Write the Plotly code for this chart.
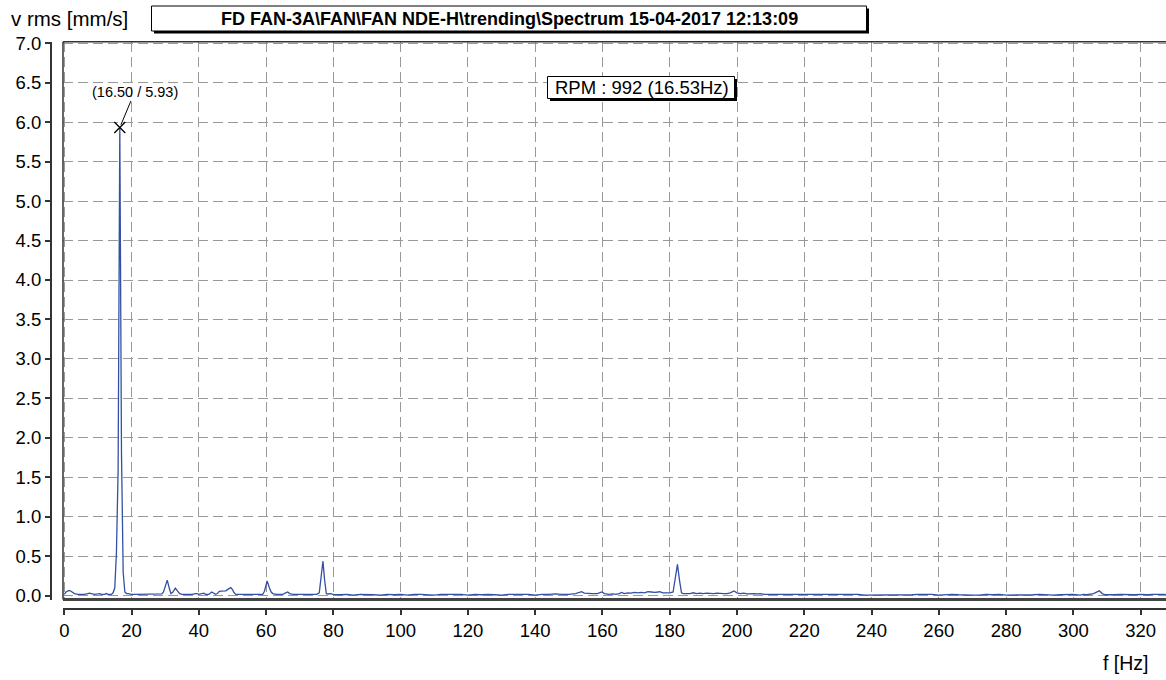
import plotly.graph_objects as go

W, H = 1166, 680

freq = [0.0, 0.5, 1.0, 1.5, 2.0, 2.5, 3.0, 4.0, 5.0, 6.0, 7.0, 7.5, 8.0, 9.0, 10.0, 10.5, 11.0, 12.0, 12.5, 13.0, 14.0, 14.5, 15.0, 15.5, 16.0, 16.5, 17.0, 17.5, 18.0, 18.5, 19.0, 20.0,
        21, 22, 23, 24, 25, 26, 27, 28, 29, 29.5, 30.0, 30.6, 31.2, 31.7, 32.3, 33.0, 33.7, 34.3, 35, 36, 37, 38, 39, 39.5, 40,
        41, 41.5, 42, 43, 43.8, 44.4, 45, 45.5, 46, 46.5, 47, 47.5, 48, 48.5, 49, 49.5, 50, 50.5, 51, 52, 53, 54, 55, 56, 57, 58, 59, 59.5, 60.3, 61, 61.5, 62, 63, 64, 65, 65.8, 66.4, 67, 68, 69, 70, 71, 72, 73, 74, 75, 75.8, 76.3, 76.9, 77.4, 77.9, 78.5, 79, 80,
        82, 84, 86, 88, 90, 92, 94, 96, 98, 100, 102, 104, 106, 108, 110, 112, 114, 116, 118, 120, 122, 124, 126, 128, 130, 132, 134, 136, 138, 140, 142, 144, 146, 148, 150, 152, 153, 153.8, 154.6, 155.5, 157, 158.5, 159.8, 160.6,
        162, 163, 164, 165, 165.7, 166.5, 167.5, 168.5, 169.5, 170.5, 171.5, 172.5, 173.5, 174.5, 175.5, 176.5, 177, 178, 179, 180, 181, 181.7, 182.3, 182.9, 183.5, 184, 185, 186, 187, 188, 189, 190, 191, 192, 193, 194, 195, 196, 197, 198, 199.1, 200, 201, 202, 203, 204, 205, 206, 207, 208,
        210, 212, 214, 216, 218, 220, 222, 224, 226, 228, 230, 232, 234, 236, 238, 240, 242, 244, 246, 248, 250, 252, 254, 256, 257, 258, 260, 262, 264, 266, 268, 270, 272, 274, 276, 278, 280, 282, 284, 286, 288, 290, 292, 294, 296, 298, 299, 300, 302, 303, 304, 305, 306, 307.7, 308.6, 309.5, 311, 312, 314, 316, 318, 320, 322, 324, 326, 327.5]

vrms = [0.02, 0.05, 0.06, 0.07, 0.06, 0.04, 0.03, 0.02, 0.02, 0.02, 0.03, 0.035, 0.03, 0.02, 0.025, 0.03, 0.02, 0.02, 0.03, 0.02, 0.02, 0.04, 0.10, 0.55, 1.6, 5.93, 1.8, 0.30, 0.05, 0.03, 0.03, 0.02,
        0.02, 0.02, 0.02, 0.02, 0.02, 0.02, 0.02, 0.02, 0.025, 0.05, 0.12, 0.20, 0.10, 0.03, 0.05, 0.10, 0.06, 0.03, 0.02, 0.02, 0.02, 0.02, 0.03, 0.03, 0.02,
        0.025, 0.035, 0.02, 0.02, 0.05, 0.03, 0.02, 0.03, 0.055, 0.06, 0.06, 0.06, 0.065, 0.08, 0.09, 0.105, 0.08, 0.04, 0.02, 0.02, 0.02, 0.02, 0.02, 0.02, 0.02, 0.02, 0.02, 0.06, 0.19, 0.10, 0.05, 0.03, 0.02, 0.02, 0.02, 0.04, 0.05, 0.03, 0.02, 0.02, 0.02, 0.02, 0.02, 0.02, 0.02, 0.02, 0.04, 0.20, 0.44, 0.20, 0.03, 0.025, 0.03, 0.02,
        0.015, 0.02, 0.01, 0.02, 0.02, 0.015, 0.01, 0.02, 0.015, 0.02, 0.01, 0.02, 0.02, 0.015, 0.01, 0.02, 0.02, 0.015, 0.02, 0.01, 0.02, 0.015, 0.02, 0.015, 0.01, 0.02, 0.02, 0.015, 0.02, 0.01, 0.02, 0.02, 0.025, 0.02, 0.02, 0.03, 0.04, 0.055, 0.035, 0.03, 0.03, 0.03, 0.05, 0.03,
        0.02, 0.025, 0.02, 0.03, 0.045, 0.03, 0.04, 0.035, 0.045, 0.04, 0.045, 0.04, 0.055, 0.05, 0.045, 0.05, 0.055, 0.04, 0.04, 0.04, 0.05, 0.22, 0.40, 0.20, 0.04, 0.03, 0.03, 0.03, 0.04, 0.03, 0.035, 0.03, 0.035, 0.03, 0.03, 0.035, 0.03, 0.03, 0.03, 0.04, 0.063, 0.04, 0.03, 0.035, 0.025, 0.03, 0.03, 0.025, 0.03, 0.02,
        0.02, 0.02, 0.015, 0.02, 0.015, 0.015, 0.02, 0.015, 0.015, 0.015, 0.015, 0.015, 0.015, 0.02, 0.01, 0.01, 0.015, 0.015, 0.01, 0.01, 0.01, 0.015, 0.02, 0.02, 0.015, 0.02, 0.01, 0.015, 0.02, 0.015, 0.01, 0.01, 0.01, 0.02, 0.015, 0.02, 0.01, 0.01, 0.01, 0.01, 0.015, 0.02, 0.015, 0.01, 0.015, 0.02, 0.015, 0.02, 0.01, 0.02, 0.015, 0.02, 0.03, 0.065, 0.03, 0.015, 0.01, 0.015, 0.02, 0.015, 0.015, 0.02, 0.015, 0.02, 0.02, 0.02]

peak_f = [16.50]
peak_v = [5.93]

x_ticks = list(range(0, 321, 20))
y_ticks = [i * 0.5 for i in range(15)]
y_tick_text = ["%.1f" % v for v in y_ticks]

title_text = "FD FAN-3A\\FAN\\FAN NDE-H\\trending\\Spectrum 15-04-2017 12:13:09"
rpm_text = "RPM : 992 (16.53Hz)"
ylabel = "v rms [mm/s]"
xlabel = "f [Hz]"

FONT = "Liberation Sans, Arial, sans-serif"
BLUE = "#3351a3"
DARK = "#333333"
GRID = "#999999"
GRID_DASH = "10px,5px"


def px(x):
    return x / W


def py(y):
    return 1 - y / H


plot_l, plot_t, plot_b = 63, 41.7, 599.5

fig = go.Figure()
fig.add_trace(go.Scatter(x=freq, y=vrms, mode="lines",
                         line=dict(color=BLUE, width=1.3), hoverinfo="x+y"))
fig.add_trace(go.Scatter(x=peak_f, y=peak_v, mode="markers",
                         marker=dict(symbol="x-thin-open", size=11, color="black",
                                     line=dict(color="black", width=1.3)),
                         hoverinfo="skip"))

shapes = []
# frame
shapes.append(dict(type="line", xref="paper", yref="paper", x0=px(plot_l), x1=1,
                   y0=py(plot_t), y1=py(plot_t), line=dict(color=DARK, width=1.5)))
shapes.append(dict(type="line", xref="paper", yref="paper", x0=px(plot_l), x1=px(plot_l),
                   y0=py(plot_t), y1=py(plot_b), line=dict(color=DARK, width=1.5)))
shapes.append(dict(type="line", xref="paper", yref="paper", x0=px(plot_l), x1=1,
                   y0=py(plot_b), y1=py(plot_b), line=dict(color="#444444", width=3)))


def shadow_box(x0, y0, x1, y1):
    shapes.append(dict(type="rect", xref="paper", yref="paper",
                       x0=px(x0 + 2.5), x1=px(x1 + 2.5), y0=py(y0 + 2.5), y1=py(y1 + 2.5),
                       fillcolor="black", line=dict(width=0), layer="above"))
    shapes.append(dict(type="rect", xref="paper", yref="paper",
                       x0=px(x0), x1=px(x1), y0=py(y0), y1=py(y1),
                       fillcolor="white", line=dict(color="black", width=1), layer="above"))


shadow_box(151.5, 6, 866.5, 31)
shadow_box(547.5, 76.5, 734.5, 98.5)

annotations = [
    dict(text="<b>" + title_text + "</b>", xref="paper", yref="paper",
         x=px(509), y=py(19), showarrow=False, font=dict(family=FONT, size=18, color="black"),
         xanchor="center", yanchor="middle"),
    dict(text=rpm_text, xref="paper", yref="paper", x=px(642), y=py(88), showarrow=False,
         font=dict(family=FONT, size=18.5, color="black"), xanchor="center", yanchor="middle"),
    dict(text=ylabel, xref="paper", yref="paper", x=px(9), y=py(18), showarrow=False,
         font=dict(family=FONT, size=20.5, color="black"), xanchor="left", yanchor="middle"),
    dict(text=xlabel, xref="paper", yref="paper", x=px(1151), y=py(663), showarrow=False,
         font=dict(family=FONT, size=19.5, color="black"), xanchor="right", yanchor="middle"),
    dict(text="(16.50 / 5.93)", x=peak_f[0], y=peak_v[0], xref="x", yref="y",
         ax=15, ay=-36, showarrow=True, arrowhead=0, arrowwidth=1, arrowcolor="black",
         font=dict(family=FONT, size=14.5, color="black"), standoff=3),
]

fig.update_layout(
    width=W, height=H,
    margin=dict(l=0, r=0, t=0, b=0, pad=0, autoexpand=False),
    paper_bgcolor="white", plot_bgcolor="white",
    showlegend=False,
    shapes=shapes,
    annotations=annotations,
    xaxis=dict(domain=[px(plot_l), 1], anchor="free", position=py(609),
               range=[-0.39, 327.55], tickvals=x_ticks, ticks="outside", ticklen=5,
               tickcolor=DARK, tickwidth=1.5, showline=True, linecolor=DARK, linewidth=2,
               showgrid=True, gridcolor=GRID, griddash=GRID_DASH, gridwidth=1,
               zeroline=False, automargin=False,
               tickfont=dict(family=FONT, size=18.5, color="black")),
    yaxis=dict(domain=[py(plot_b), py(plot_t)], anchor="free", position=px(51),
               range=[-0.045, 7.017], tickvals=y_ticks, ticktext=y_tick_text,
               ticks="outside", ticklen=5, tickcolor=DARK, tickwidth=1.5,
               showline=True, linecolor=DARK, linewidth=2,
               showgrid=True, gridcolor=GRID, griddash=GRID_DASH, gridwidth=1,
               zeroline=False, automargin=False,
               tickfont=dict(family=FONT, size=18.5, color="black")),
)

post = ("document.body.style.margin='0px';document.body.style.padding='0px';"
        "document.body.style.overflow='hidden';"
        "var d=document.getElementById('{plot_id}');"
        "d.style.position='absolute';d.style.left='0px';d.style.top='0px';")

fig.write_html("out.html", config={"displayModeBar": False}, post_script=post)
